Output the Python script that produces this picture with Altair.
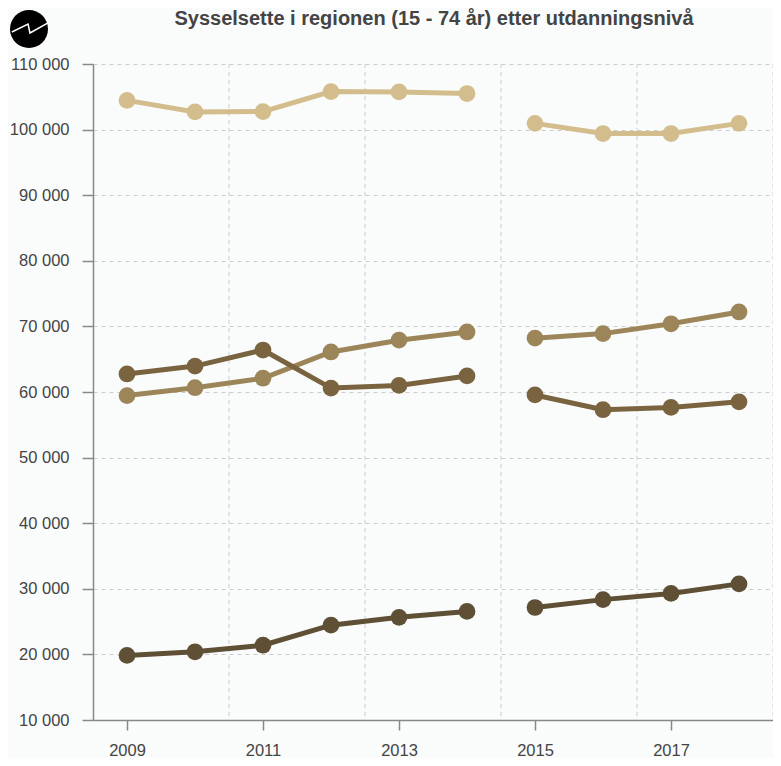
import altair as alt
import pandas as pd

years = [2009, 2010, 2011, 2012, 2013, 2014, 2015, 2016, 2017, 2018]
series = ["Videregående", "Universitet kort", "Grunnskole", "Universitet lang"]
colors = ["#d3bd8d", "#9c8559", "#7a6440", "#5e4f35"]

videregaende = [104450, 102700, 102750, 105800, 105750, 105500, 100950, 99400, 99400, 100950]
universitet_kort = [59450, 60650, 62100, 66100, 67900, 69150, 68200, 68900, 70400, 72200]
grunnskole = [62750, 63950, 66400, 60600, 61000, 62450, 59550, 57300, 57650, 58500]
universitet_lang = [19850, 20400, 21400, 24450, 25650, 26550, 27150, 28350, 29300, 30750]

x_tick_years = [2009, 2011, 2013, 2015, 2017]
x_grid_years = [2010.5, 2012.5, 2014.5, 2016.5, 2018.5]
y_ticks = [10000, 20000, 30000, 40000, 50000, 60000, 70000, 80000, 90000, 100000, 110000]

title_text = "Sysselsette i regionen (15 - 74 år) etter utdanningsnivå"

rows = []
for name, vals in zip(series, [videregaende, universitet_kort, grunnskole, universitet_lang]):
    for yr, v in zip(years, vals):
        rows.append({"år": yr, "sysselsatte": v, "nivå": name,
                     "periode": "før" if yr <= 2014 else "etter"})
df = pd.DataFrame(rows)
grid_df = pd.DataFrame({"år": x_grid_years})

FONT = "Liberation Sans"
xscale = alt.Scale(domain=[2008.5, 2018.5], nice=False, zero=False)
yscale = alt.Scale(domain=[10000, 110000], nice=False, zero=False)
color = alt.Color("nivå:N", scale=alt.Scale(domain=series, range=colors), legend=None)

y_axis = alt.Axis(values=y_ticks, labelExpr="replace(format(datum.value, ','), ',', ' ')",
                  grid=True, gridDash=[4, 4], gridColor="#cccccc", gridWidth=1,
                  domainColor="#888888", domainWidth=1.5, tickColor="#888888", tickWidth=1.5,
                  tickSize=11, labelPadding=13, labelFontSize=16.5, labelColor="#444444",
                  labelFont=FONT, title=None)

x_axis = alt.Axis(orient="bottom", values=x_tick_years, format="d", grid=False,
                  domainColor="#888888", domainWidth=1.5, tickColor="#888888", tickWidth=1.5,
                  tickSize=10, labelPadding=12, labelFontSize=16.5, labelColor="#444444",
                  labelFont=FONT, title=None)

grid_layer = alt.Chart(grid_df).mark_rule(
    strokeDash=[4, 4], color="#cccccc", strokeWidth=1
).encode(x=alt.X("år:Q", scale=xscale, axis=x_axis))

lines = alt.Chart(df).mark_line(strokeWidth=5).encode(
    x=alt.X("år:Q", scale=xscale, axis=x_axis),
    y=alt.Y("sysselsatte:Q", scale=yscale, axis=y_axis),
    color=color,
    detail="periode:N",
)

points = alt.Chart(df).mark_circle(size=280, opacity=1).encode(
    x=alt.X("år:Q", scale=xscale, axis=x_axis),
    y=alt.Y("sysselsatte:Q", scale=yscale, axis=y_axis),
    color=color,
)

single = pd.DataFrame({"t": [title_text]})
title_mark = alt.Chart(single).mark_text(
    font=FONT, fontSize=20, fontWeight="bold", color="#444444",
    align="center", baseline="alphabetic"
).encode(text="t:N", x=alt.value(341), y=alt.value(-39))

logo_circle = alt.Chart(single).mark_point(
    shape="circle", filled=True, color="black", size=1444, opacity=1
).encode(x=alt.value(-64), y=alt.value(-35))
logo_zig = alt.Chart(single).mark_point(
    shape="M -0.9 0.16 L -0.05 -0.26 L 0.05 0.21 L 1 -0.32",
    filled=False, stroke="white", strokeWidth=1.5, size=1444, opacity=1
).encode(x=alt.value(-64), y=alt.value(-35))

chart = alt.layer(grid_layer, lines, points, title_mark, logo_circle, logo_zig).properties(
    width=680, height=656,
    padding={"left": 85, "top": 56, "right": 0, "bottom": 38},
    autosize=alt.AutoSizeParams(type="none"),
    background="#fafcfc",
).configure_view(stroke=None)

chart.save("out.html", embed_options={"renderer": "svg", "actions": False})
